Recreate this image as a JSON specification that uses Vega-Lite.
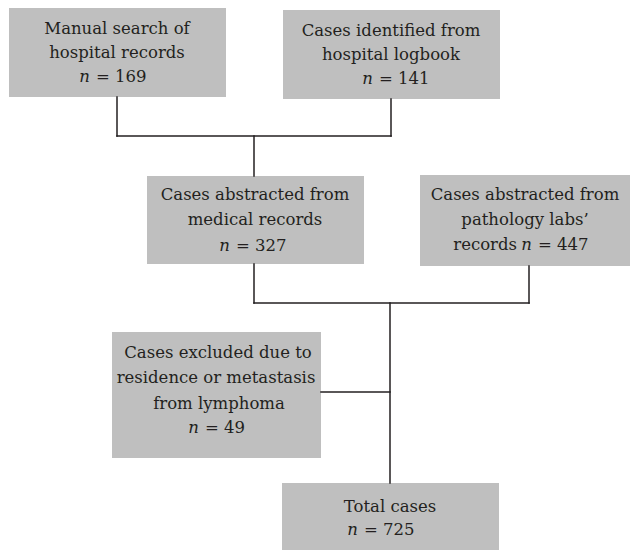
{
  "$schema": "https://vega.github.io/schema/vega-lite/v6.json",
  "width": 630,
  "height": 550,
  "padding": 0,
  "autosize": {"type": "none"},
  "background": "white",
  "config": {"view": {"stroke": null}},
  "datasets": {
    "boxes": [
      {"id": "search", "x1": 9, "x2": 226, "y1": 8, "y2": 97},
      {"id": "logbook", "x1": 283, "x2": 500, "y1": 10, "y2": 99},
      {"id": "medical", "x1": 147, "x2": 364, "y1": 176, "y2": 264},
      {"id": "pathology", "x1": 420, "x2": 630, "y1": 175, "y2": 266},
      {"id": "excluded", "x1": 112, "x2": 321, "y1": 332, "y2": 458},
      {"id": "total", "x1": 282, "x2": 499, "y1": 483, "y2": 550}
    ],
    "links": [
      {"x1": 117, "y1": 97, "x2": 117, "y2": 136},
      {"x1": 391, "y1": 99, "x2": 391, "y2": 136},
      {"x1": 117, "y1": 136, "x2": 391, "y2": 136},
      {"x1": 254, "y1": 136, "x2": 254, "y2": 176},
      {"x1": 254, "y1": 264, "x2": 254, "y2": 303},
      {"x1": 529, "y1": 266, "x2": 529, "y2": 303},
      {"x1": 254, "y1": 303, "x2": 529, "y2": 303},
      {"x1": 390, "y1": 303, "x2": 390, "y2": 483},
      {"x1": 321, "y1": 392, "x2": 390, "y2": 392}
    ],
    "lines": [
      {"x": 117, "y": 34, "text": "Manual search of"},
      {"x": 117, "y": 58, "text": "hospital records"},
      {"x": 391, "y": 36, "text": "Cases identified from"},
      {"x": 391, "y": 60, "text": "hospital logbook"},
      {"x": 255, "y": 200, "text": "Cases abstracted from"},
      {"x": 255, "y": 225, "text": "medical records"},
      {"x": 525, "y": 200, "text": "Cases abstracted from"},
      {"x": 525, "y": 225, "text": "pathology labs’"},
      {"x": 218, "y": 358, "text": "Cases excluded due to"},
      {"x": 216, "y": 383, "text": "residence or metastasis"},
      {"x": 219, "y": 409, "text": "from lymphoma"},
      {"x": 390, "y": 512, "text": "Total cases"}
    ],
    "pre": [
      {"x": 517, "y": 250, "text": "records"}
    ],
    "nvars": [
      {"x": 90, "y": 82, "text": "n"},
      {"x": 373, "y": 84, "text": "n"},
      {"x": 230, "y": 251, "text": "n"},
      {"x": 532, "y": 250, "text": "n"},
      {"x": 199, "y": 433, "text": "n"},
      {"x": 358, "y": 535, "text": "n"}
    ],
    "rest": [
      {"x": 96, "y": 82, "text": "= 169"},
      {"x": 379, "y": 84, "text": "= 141"},
      {"x": 236, "y": 251, "text": "= 327"},
      {"x": 538, "y": 250, "text": "= 447"},
      {"x": 205, "y": 433, "text": "= 49"},
      {"x": 364, "y": 535, "text": "= 725"}
    ]
  },
  "layer": [
    {
      "data": {"name": "boxes"},
      "mark": {"type": "rect", "color": "#bfbfbf"},
      "encoding": {
        "x": {"field": "x1", "type": "quantitative", "scale": {"domain": [0, 630], "range": [0, 630], "nice": false, "zero": false}, "axis": null},
        "x2": {"field": "x2"},
        "y": {"field": "y1", "type": "quantitative", "scale": {"domain": [0, 550], "range": [0, 550], "nice": false, "zero": false}, "axis": null},
        "y2": {"field": "y2"}
      }
    },
    {
      "data": {"name": "links"},
      "mark": {"type": "rule", "color": "#231f20", "strokeWidth": 1.5, "strokeCap": "square"},
      "encoding": {
        "x": {"field": "x1", "type": "quantitative"},
        "x2": {"field": "x2"},
        "y": {"field": "y1", "type": "quantitative"},
        "y2": {"field": "y2"}
      }
    },
    {
      "data": {"name": "lines"},
      "mark": {"type": "text", "font": "DejaVu Serif", "fontSize": 16.5, "color": "#231f20", "align": "center", "baseline": "alphabetic"},
      "encoding": {
        "x": {"field": "x", "type": "quantitative"},
        "y": {"field": "y", "type": "quantitative"},
        "text": {"field": "text"}
      }
    },
    {
      "data": {"name": "pre"},
      "mark": {"type": "text", "font": "DejaVu Serif", "fontSize": 16.5, "color": "#231f20", "align": "right", "baseline": "alphabetic"},
      "encoding": {
        "x": {"field": "x", "type": "quantitative"},
        "y": {"field": "y", "type": "quantitative"},
        "text": {"field": "text"}
      }
    },
    {
      "data": {"name": "nvars"},
      "mark": {"type": "text", "font": "DejaVu Serif", "fontSize": 16.5, "fontStyle": "italic", "color": "#231f20", "align": "right", "baseline": "alphabetic"},
      "encoding": {
        "x": {"field": "x", "type": "quantitative"},
        "y": {"field": "y", "type": "quantitative"},
        "text": {"field": "text"}
      }
    },
    {
      "data": {"name": "rest"},
      "mark": {"type": "text", "font": "DejaVu Serif", "fontSize": 16.5, "color": "#231f20", "align": "left", "baseline": "alphabetic"},
      "encoding": {
        "x": {"field": "x", "type": "quantitative"},
        "y": {"field": "y", "type": "quantitative"},
        "text": {"field": "text"}
      }
    }
  ]
}
